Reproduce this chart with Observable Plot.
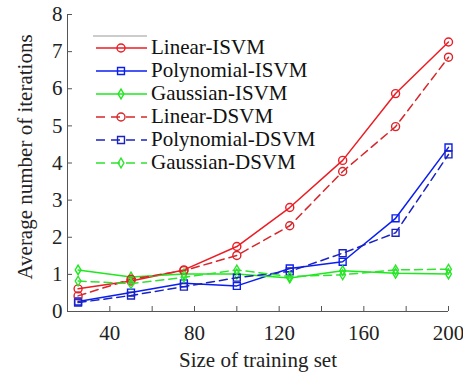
<!DOCTYPE html>
<html>
<head>
<meta charset="utf-8">
<script src="https://cdn.jsdelivr.net/npm/d3@7"></script>
<script src="https://cdn.jsdelivr.net/npm/@observablehq/plot@0.6"></script>
<style>
  html, body { margin: 0; padding: 0; background: #fff; }
  #chart { position: relative; width: 463px; height: 378px; }
</style>
</head>
<body>
<div id="chart"></div>
<script>
// ---- data ----
const sizes = [25, 50, 75, 100, 125, 150, 175, 200];
const linearISVM = [0.61, 0.82, 1.12, 1.75, 2.80, 4.07, 5.87, 7.26];
const polyISVM   = [0.27, 0.51, 0.76, 0.69, 1.16, 1.34, 2.51, 4.42];
const gaussISVM  = [1.12, 0.93, 1.01, 1.01, 0.90, 1.10, 1.03, 1.01];
const linearDSVM = [0.42, 0.87, 1.10, 1.51, 2.31, 3.77, 4.98, 6.85];
const polyDSVM   = [0.24, 0.43, 0.67, 0.91, 1.08, 1.57, 2.12, 4.23];
const gaussDSVM  = [0.82, 0.75, 0.92, 1.12, 0.94, 0.99, 1.12, 1.14];
const seriesNames = ["Linear-ISVM", "Polynomial-ISVM", "Gaussian-ISVM", "Linear-DSVM", "Polynomial-DSVM", "Gaussian-DSVM"];
const xTicks = [20, 40, 60, 80, 100, 120, 140, 160, 180, 200];
const yTicks = [0, 1, 2, 3, 4, 5, 6, 7, 8];
const xLabel = "Size of training set";
const yLabel = "Average number of iterations";

// tall diamond marker (MATLAB 'd')
const tallDiamond = {
  draw(context, size) {
    const r = Math.sqrt(size / Math.PI);
    const w = r * 0.72, h = r * 1.2;
    context.moveTo(0, -h); context.lineTo(w, 0); context.lineTo(0, h); context.lineTo(-w, 0); context.closePath();
  }
};

const styles = [
  {color: "#ec1c24", dash: null, symbol: "circle", r: 4},
  {color: "#0a1ef0", dash: null, symbol: "square", r: 3.9},
  {color: "#1ee81e", dash: null, symbol: tallDiamond, r: 4},
  {color: "#d8262b", dash: "8,5", symbol: "circle", r: 4},
  {color: "#1a22c0", dash: "8,5", symbol: "square", r: 3.9},
  {color: "#2ee42e", dash: "8,5", symbol: tallDiamond, r: 4}
];
const values = [linearISVM, polyISVM, gaussISVM, linearDSVM, polyDSVM, gaussDSVM];
const series = seriesNames.map((name, i) => ({
  name, style: styles[i],
  data: sizes.map((s, j) => ({size: s, value: values[i][j]}))
}));

const marks = [
  Plot.ruleY([0], {stroke: "#555", strokeWidth: 1}),
  Plot.ruleX([20], {stroke: "#555", strokeWidth: 1}),
  Plot.axisX({ticks: xTicks, tickSize: -5, tickPadding: 19, tickFormat: d => (d % 40 === 0 ? String(d) : ""), stroke: "#555", fill: "#222", fontSize: 21, label: null}),
  Plot.axisY({ticks: yTicks, tickSize: -5, tickPadding: 10, tickFormat: d => String(d), stroke: "#555", fill: "#222", fontSize: 21, label: null}),
  Plot.text([xLabel], {frameAnchor: "bottom", dy: 55, fontSize: 21, fill: "#222"}),
  Plot.text([yLabel], {frameAnchor: "left", textAnchor: "middle", rotate: -90, dx: -42, dy: -6, fontSize: 21, fill: "#222"})
];
for (const s of series) {
  marks.push(Plot.line(s.data, {x: "size", y: "value", stroke: s.style.color, strokeWidth: 1.5, strokeDasharray: s.style.dash}));
  marks.push(Plot.dot(s.data, {x: "size", y: "value", stroke: s.style.color, strokeWidth: 1.4, symbol: s.style.symbol, r: s.style.r, fill: "none"}));
}

const plot = Plot.plot({
  width: 463,
  height: 378,
  marginLeft: 67,
  marginRight: 15,
  marginTop: 14,
  marginBottom: 67,
  style: {fontFamily: "'Liberation Serif', 'Times New Roman', serif", background: "#fff", color: "#222"},
  x: {domain: [20, 200]},
  y: {domain: [0, 8]},
  marks
});
document.getElementById("chart").appendChild(plot);

// ---- legend (drawn inside the plot area, top-left) ----
const svg = d3.select(plot);
const lg = svg.append("g")
  .attr("font-family", "'Liberation Serif', 'Times New Roman', serif")
  .attr("font-size", 21)
  .attr("text-anchor", "start");
lg.append("line").attr("x1", 93).attr("x2", 147).attr("y1", 36).attr("y2", 36).attr("stroke", "#999").attr("stroke-width", 1);
const rowY = [48, 71, 94, 117, 140, 163];
series.forEach((s, i) => {
  const y = rowY[i];
  const g = lg.append("g");
  g.append("line").attr("x1", 96).attr("x2", 147).attr("y1", y).attr("y2", y)
    .attr("stroke", s.style.color).attr("stroke-width", 1.5)
    .attr("stroke-dasharray", s.style.dash ? "9,6" : null);
  const sym = typeof s.style.symbol === "string"
    ? (s.style.symbol === "circle" ? d3.symbolCircle : d3.symbolSquare)
    : s.style.symbol;
  g.append("path").attr("transform", `translate(121,${y})`)
    .attr("d", d3.symbol(sym, Math.PI * s.style.r * s.style.r)())
    .attr("fill", "none").attr("stroke", s.style.color).attr("stroke-width", 1.4);
  g.append("text").attr("x", 151).attr("y", y).attr("dy", 5.5).attr("text-anchor", "start").attr("fill", "#111").text(s.name);
});
</script>
</body>
</html>
